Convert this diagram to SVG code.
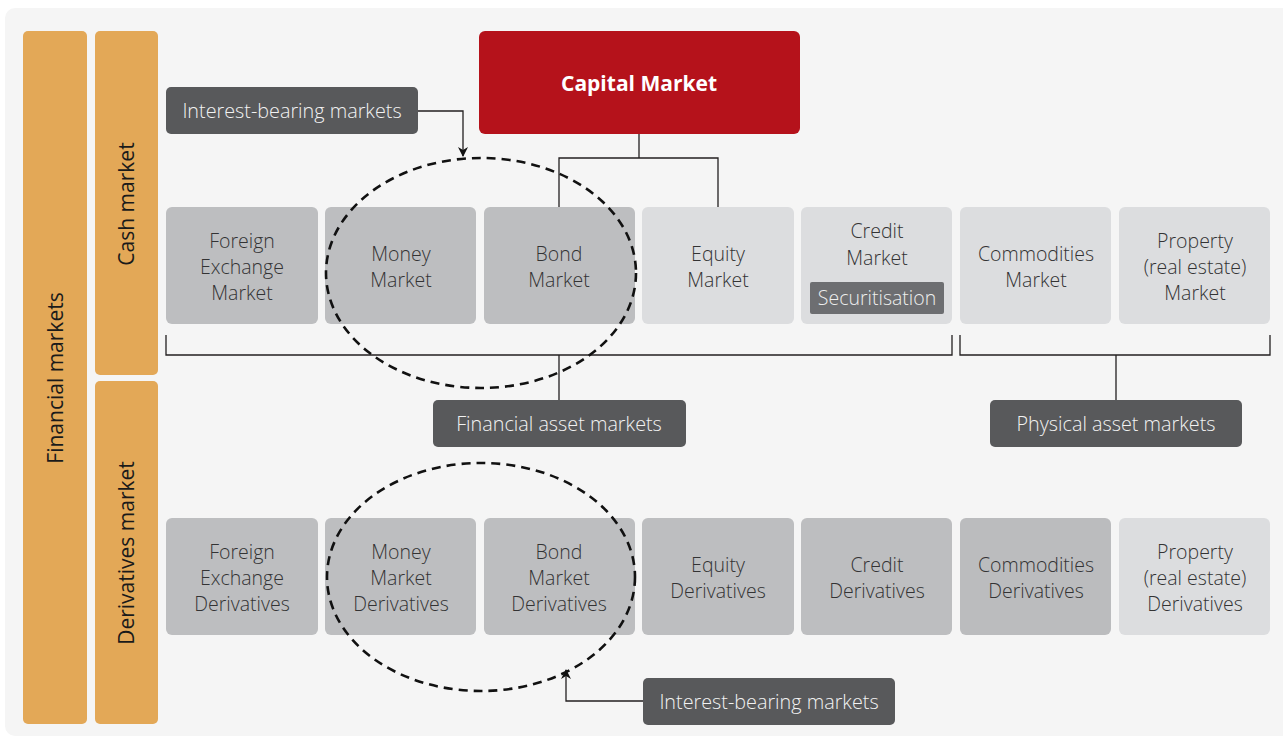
<svg xmlns="http://www.w3.org/2000/svg" width="1283" height="738" viewBox="0 0 1283 738">
<style>
text{font-family:"Open Sans","Liberation Sans",sans-serif;text-anchor:middle}
.bx text{font-size:19.5px;fill:#333334;font-weight:300}
.dk{fill:#bdbec0}
.lt{fill:#dcdddf}
.tag rect{fill:#58595b}
.tag text{font-size:19.8px;fill:#f2f2f2;font-weight:300}
.side{fill:#e3a857}
.side text{font-size:21px;fill:#1a1a1a}
.ln{fill:none;stroke:#231f20;stroke-width:1.3}
.dash{fill:none;stroke:#111;stroke-width:2.6;stroke-dasharray:9 6}
</style>
<defs>
<marker id="ah" viewBox="0 0 10 10" refX="9" refY="5" markerWidth="10" markerHeight="10" markerUnits="userSpaceOnUse" orient="auto">
<path d="M0,0 L10,5 L0,10 L3,5 Z" fill="#111"/>
</marker>
</defs>
<rect x="5" y="8" width="1290" height="728" rx="10" fill="#f5f5f5"/>

<g id="financial-markets" class="side"><rect x="23" y="31" width="64" height="693" rx="5"/><text transform="translate(63,378) rotate(-90)" style="fill:#1a1a1a">Financial markets</text></g>
<g id="cash-market" class="side"><rect x="95" y="31" width="63" height="344" rx="5"/><text transform="translate(134,204) rotate(-90)" style="fill:#1a1a1a">Cash market</text></g>
<g id="derivatives-market" class="side"><rect x="95" y="381" width="63" height="343" rx="5"/><text transform="translate(134,553) rotate(-90)" style="fill:#1a1a1a">Derivatives market</text></g>

<g id="capital-market"><rect x="479" y="31" width="321" height="103" rx="6" fill="#b5121b"/><text x="639" y="91" style="font-size:21px;font-weight:700;fill:#fff">Capital Market</text></g>

<g id="tag-interest-top" class="tag"><rect x="166" y="87" width="252" height="47" rx="5"/><text x="292" y="118">Interest-bearing markets</text></g>
<g id="tag-financial" class="tag"><rect x="433" y="400" width="253" height="47" rx="5"/><text x="559" y="431">Financial asset markets</text></g>
<g id="tag-physical" class="tag"><rect x="990" y="400" width="252" height="47" rx="5"/><text x="1116" y="431">Physical asset markets</text></g>
<g id="tag-interest-bottom" class="tag"><rect x="643" y="678" width="252" height="47" rx="5"/><text x="769" y="709">Interest-bearing markets</text></g>

<g id="fx-market" class="bx"><rect class="dk" x="166" y="207" width="152" height="117" rx="6"/><text x="242" y="248">Foreign</text><text x="242" y="274">Exchange</text><text x="242" y="300">Market</text></g>
<g id="money-market" class="bx"><rect class="dk" x="325" y="207" width="151" height="117" rx="6"/><text x="401" y="261">Money</text><text x="401" y="287">Market</text></g>
<g id="bond-market" class="bx"><rect class="dk" x="484" y="207" width="151" height="117" rx="6"/><text x="559" y="261">Bond</text><text x="559" y="287">Market</text></g>
<g id="equity-market" class="bx"><rect class="lt" x="642" y="207" width="152" height="117" rx="6"/><text x="718" y="261">Equity</text><text x="718" y="287">Market</text></g>
<g id="credit-market" class="bx"><rect class="lt" x="801" y="207" width="151" height="117" rx="6"/><text x="877" y="238">Credit</text><text x="877" y="265">Market</text><rect x="810" y="282" width="134" height="32" rx="2" fill="#6d6e71"/><text x="877" y="305" style="fill:#eee">Securitisation</text></g>
<g id="commodities-market" class="bx"><rect class="lt" x="960" y="207" width="151" height="117" rx="6"/><text x="1036" y="261">Commodities</text><text x="1036" y="287">Market</text></g>
<g id="property-market" class="bx"><rect class="lt" x="1119" y="207" width="151" height="117" rx="6"/><text x="1195" y="248">Property</text><text x="1195" y="274">(real estate)</text><text x="1195" y="300">Market</text></g>

<g id="fx-derivatives" class="bx"><rect class="dk" x="166" y="518" width="152" height="117" rx="6"/><text x="242" y="559">Foreign</text><text x="242" y="585">Exchange</text><text x="242" y="611">Derivatives</text></g>
<g id="money-derivatives" class="bx"><rect class="dk" x="325" y="518" width="151" height="117" rx="6"/><text x="401" y="559">Money</text><text x="401" y="585">Market</text><text x="401" y="611">Derivatives</text></g>
<g id="bond-derivatives" class="bx"><rect class="dk" x="484" y="518" width="151" height="117" rx="6"/><text x="559" y="559">Bond</text><text x="559" y="585">Market</text><text x="559" y="611">Derivatives</text></g>
<g id="equity-derivatives" class="bx"><rect class="dk" x="642" y="518" width="152" height="117" rx="6"/><text x="718" y="572">Equity</text><text x="718" y="598">Derivatives</text></g>
<g id="credit-derivatives" class="bx"><rect class="dk" x="801" y="518" width="151" height="117" rx="6"/><text x="877" y="572">Credit</text><text x="877" y="598">Derivatives</text></g>
<g id="commodities-derivatives" class="bx"><rect class="dk" x="960" y="518" width="151" height="117" rx="6" style="fill:#bbbcbe"/><text x="1036" y="572">Commodities</text><text x="1036" y="598">Derivatives</text></g>
<g id="property-derivatives" class="bx"><rect class="lt" x="1119" y="518" width="151" height="117" rx="6"/><text x="1195" y="559">Property</text><text x="1195" y="585">(real estate)</text><text x="1195" y="611">Derivatives</text></g>

<g id="connectors">
<path class="ln" d="M418,111 H463 V156" marker-end="url(#ah)"/>
<path class="ln" d="M639,134 V158 M559,207 V158 H718 V207"/>
<path class="ln" d="M166,335 V355 H952 V335 M559,355 V400"/>
<path class="ln" d="M960,335 V355 H1270 V335 M1116,355 V400"/>
<path class="ln" d="M643,701 H566 V670" marker-end="url(#ah)"/>
<ellipse class="dash" cx="481" cy="273" rx="155" ry="115"/>
<ellipse class="dash" cx="481" cy="577" rx="154" ry="114"/>
</g>
</svg>
